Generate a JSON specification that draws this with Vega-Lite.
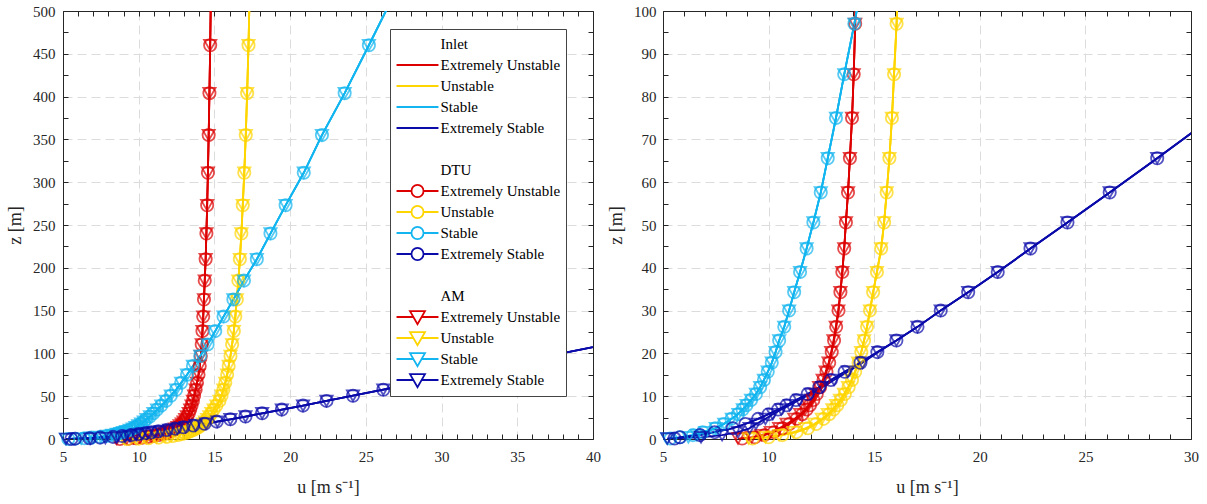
{
  "$schema": "https://vega.github.io/schema/vega-lite/v6.json",
  "padding": {"left": 6, "top": 4, "right": 10, "bottom": 5},
  "bounds": "flush",
  "spacing": 70,
  "datasets": {
    "profiles": [
      {"case": "EU", "z": 0.1, "Inlet": 8.7, "DTU": 8.75, "AM": 8.55},
      {"case": "EU", "z": 0.4, "Inlet": 9.3, "DTU": 9.35, "AM": 9.2},
      {"case": "EU", "z": 0.9, "Inlet": 9.75, "DTU": 9.8, "AM": 9.65},
      {"case": "EU", "z": 1.6, "Inlet": 10.2, "DTU": 10.25, "AM": 10.1},
      {"case": "EU", "z": 2.5, "Inlet": 10.6, "DTU": 10.65, "AM": 10.5},
      {"case": "EU", "z": 3.5, "Inlet": 10.93, "DTU": 10.98, "AM": 10.85},
      {"case": "EU", "z": 4.7, "Inlet": 11.3, "DTU": 11.33, "AM": 11.22},
      {"case": "EU", "z": 5.8, "Inlet": 11.58, "DTU": 11.6, "AM": 11.5},
      {"case": "EU", "z": 6.9, "Inlet": 11.78, "DTU": 11.8, "AM": 11.72},
      {"case": "EU", "z": 7.9, "Inlet": 11.94, "DTU": 11.96, "AM": 11.88},
      {"case": "EU", "z": 9.1, "Inlet": 12.1, "DTU": 12.12, "AM": 12.05},
      {"case": "EU", "z": 10.5, "Inlet": 12.27, "DTU": 12.28, "AM": 12.22},
      {"case": "EU", "z": 12.1, "Inlet": 12.43, "DTU": 12.44, "AM": 12.39},
      {"case": "EU", "z": 13.8, "Inlet": 12.59, "DTU": 12.6, "AM": 12.56},
      {"case": "EU", "z": 15.7, "Inlet": 12.73, "DTU": 12.74, "AM": 12.7},
      {"case": "EU", "z": 17.8, "Inlet": 12.86, "DTU": 12.87, "AM": 12.84},
      {"case": "EU", "z": 20.3, "Inlet": 12.98, "DTU": 12.99, "AM": 12.96},
      {"case": "EU", "z": 23.0, "Inlet": 13.09, "DTU": 13.1, "AM": 13.07},
      {"case": "EU", "z": 26.2, "Inlet": 13.2, "DTU": 13.2, "AM": 13.18},
      {"case": "EU", "z": 30.0, "Inlet": 13.31, "DTU": 13.31, "AM": 13.3},
      {"case": "EU", "z": 34.3, "Inlet": 13.4, "DTU": 13.4, "AM": 13.4},
      {"case": "EU", "z": 39.0, "Inlet": 13.49, "DTU": 13.49, "AM": 13.49},
      {"case": "EU", "z": 44.5, "Inlet": 13.58, "DTU": 13.58, "AM": 13.58},
      {"case": "EU", "z": 50.6, "Inlet": 13.66, "DTU": 13.66, "AM": 13.66},
      {"case": "EU", "z": 57.6, "Inlet": 13.76, "DTU": 13.76, "AM": 13.76},
      {"case": "EU", "z": 65.6, "Inlet": 13.85, "DTU": 13.85, "AM": 13.85},
      {"case": "EU", "z": 75.0, "Inlet": 13.95, "DTU": 13.95, "AM": 13.95},
      {"case": "EU", "z": 85.2, "Inlet": 14.03, "DTU": 14.03, "AM": 14.03},
      {"case": "EU", "z": 97.0, "Inlet": 14.1, "DTU": 14.1, "AM": 14.1},
      {"case": "EU", "z": 110.5, "Inlet": 14.16, "DTU": 14.16, "AM": 14.16},
      {"case": "EU", "z": 126, "Inlet": 14.21, "DTU": 14.21, "AM": 14.21},
      {"case": "EU", "z": 143, "Inlet": 14.26, "DTU": 14.26, "AM": 14.26},
      {"case": "EU", "z": 163, "Inlet": 14.31, "DTU": 14.31, "AM": 14.31},
      {"case": "EU", "z": 185, "Inlet": 14.36, "DTU": 14.36, "AM": 14.36},
      {"case": "EU", "z": 210, "Inlet": 14.42, "DTU": 14.42, "AM": 14.42},
      {"case": "EU", "z": 240, "Inlet": 14.47, "DTU": 14.47, "AM": 14.47},
      {"case": "EU", "z": 273, "Inlet": 14.52, "DTU": 14.52, "AM": 14.52},
      {"case": "EU", "z": 311, "Inlet": 14.57, "DTU": 14.57, "AM": 14.57},
      {"case": "EU", "z": 355, "Inlet": 14.62, "DTU": 14.62, "AM": 14.62},
      {"case": "EU", "z": 404, "Inlet": 14.67, "DTU": 14.67, "AM": 14.67},
      {"case": "EU", "z": 460, "Inlet": 14.72, "DTU": 14.72, "AM": 14.72},
      {"case": "EU", "z": 524, "Inlet": 14.77, "DTU": 14.77, "AM": 14.77},

      {"case": "U", "z": 0.1, "Inlet": 9.2, "DTU": 9.25, "AM": 9.05},
      {"case": "U", "z": 0.4, "Inlet": 9.95, "DTU": 10.0, "AM": 9.85},
      {"case": "U", "z": 0.9, "Inlet": 10.6, "DTU": 10.65, "AM": 10.5},
      {"case": "U", "z": 1.6, "Inlet": 11.28, "DTU": 11.32, "AM": 11.18},
      {"case": "U", "z": 2.5, "Inlet": 11.82, "DTU": 11.86, "AM": 11.74},
      {"case": "U", "z": 3.5, "Inlet": 12.22, "DTU": 12.25, "AM": 12.15},
      {"case": "U", "z": 4.7, "Inlet": 12.58, "DTU": 12.6, "AM": 12.52},
      {"case": "U", "z": 5.8, "Inlet": 12.85, "DTU": 12.87, "AM": 12.8},
      {"case": "U", "z": 6.9, "Inlet": 13.06, "DTU": 13.08, "AM": 13.02},
      {"case": "U", "z": 7.9, "Inlet": 13.23, "DTU": 13.25, "AM": 13.2},
      {"case": "U", "z": 9.1, "Inlet": 13.41, "DTU": 13.42, "AM": 13.38},
      {"case": "U", "z": 10.5, "Inlet": 13.6, "DTU": 13.61, "AM": 13.57},
      {"case": "U", "z": 12.1, "Inlet": 13.78, "DTU": 13.79, "AM": 13.76},
      {"case": "U", "z": 13.8, "Inlet": 13.94, "DTU": 13.95, "AM": 13.92},
      {"case": "U", "z": 15.7, "Inlet": 14.1, "DTU": 14.1, "AM": 14.08},
      {"case": "U", "z": 17.8, "Inlet": 14.26, "DTU": 14.26, "AM": 14.24},
      {"case": "U", "z": 20.3, "Inlet": 14.39, "DTU": 14.39, "AM": 14.38},
      {"case": "U", "z": 23.0, "Inlet": 14.52, "DTU": 14.52, "AM": 14.52},
      {"case": "U", "z": 26.2, "Inlet": 14.66, "DTU": 14.66, "AM": 14.66},
      {"case": "U", "z": 30.0, "Inlet": 14.8, "DTU": 14.8, "AM": 14.8},
      {"case": "U", "z": 34.3, "Inlet": 14.95, "DTU": 14.95, "AM": 14.95},
      {"case": "U", "z": 39.0, "Inlet": 15.13, "DTU": 15.13, "AM": 15.13},
      {"case": "U", "z": 44.5, "Inlet": 15.33, "DTU": 15.33, "AM": 15.33},
      {"case": "U", "z": 50.6, "Inlet": 15.47, "DTU": 15.47, "AM": 15.47},
      {"case": "U", "z": 57.6, "Inlet": 15.59, "DTU": 15.59, "AM": 15.59},
      {"case": "U", "z": 65.6, "Inlet": 15.72, "DTU": 15.72, "AM": 15.72},
      {"case": "U", "z": 75.0, "Inlet": 15.84, "DTU": 15.84, "AM": 15.84},
      {"case": "U", "z": 85.2, "Inlet": 15.94, "DTU": 15.94, "AM": 15.94},
      {"case": "U", "z": 97.0, "Inlet": 16.06, "DTU": 16.06, "AM": 16.06},
      {"case": "U", "z": 110.5, "Inlet": 16.17, "DTU": 16.17, "AM": 16.17},
      {"case": "U", "z": 126, "Inlet": 16.28, "DTU": 16.28, "AM": 16.28},
      {"case": "U", "z": 143, "Inlet": 16.38, "DTU": 16.38, "AM": 16.38},
      {"case": "U", "z": 163, "Inlet": 16.48, "DTU": 16.48, "AM": 16.48},
      {"case": "U", "z": 185, "Inlet": 16.58, "DTU": 16.58, "AM": 16.58},
      {"case": "U", "z": 210, "Inlet": 16.68, "DTU": 16.68, "AM": 16.68},
      {"case": "U", "z": 240, "Inlet": 16.78, "DTU": 16.78, "AM": 16.78},
      {"case": "U", "z": 273, "Inlet": 16.87, "DTU": 16.87, "AM": 16.87},
      {"case": "U", "z": 311, "Inlet": 16.97, "DTU": 16.97, "AM": 16.97},
      {"case": "U", "z": 355, "Inlet": 17.07, "DTU": 17.07, "AM": 17.07},
      {"case": "U", "z": 404, "Inlet": 17.16, "DTU": 17.16, "AM": 17.16},
      {"case": "U", "z": 460, "Inlet": 17.25, "DTU": 17.25, "AM": 17.25},
      {"case": "U", "z": 524, "Inlet": 17.33, "DTU": 17.33, "AM": 17.33},

      {"case": "S", "z": 0.1, "Inlet": 5.3, "DTU": 5.35, "AM": 5.2},
      {"case": "S", "z": 0.4, "Inlet": 5.75, "DTU": 5.8, "AM": 6.2},
      {"case": "S", "z": 0.9, "Inlet": 6.38, "DTU": 6.42, "AM": 6.6},
      {"case": "S", "z": 1.6, "Inlet": 6.84, "DTU": 6.88, "AM": 7.0},
      {"case": "S", "z": 2.5, "Inlet": 7.45, "DTU": 7.48, "AM": 7.5},
      {"case": "S", "z": 3.5, "Inlet": 7.85, "DTU": 7.88, "AM": 7.9},
      {"case": "S", "z": 4.7, "Inlet": 8.22, "DTU": 8.24, "AM": 8.26},
      {"case": "S", "z": 5.8, "Inlet": 8.55, "DTU": 8.55, "AM": 8.57},
      {"case": "S", "z": 6.9, "Inlet": 8.77, "DTU": 8.77, "AM": 8.78},
      {"case": "S", "z": 7.9, "Inlet": 8.95, "DTU": 8.95, "AM": 8.96},
      {"case": "S", "z": 9.1, "Inlet": 9.17, "DTU": 9.17, "AM": 9.17},
      {"case": "S", "z": 10.5, "Inlet": 9.4, "DTU": 9.4, "AM": 9.4},
      {"case": "S", "z": 12.1, "Inlet": 9.6, "DTU": 9.6, "AM": 9.6},
      {"case": "S", "z": 13.8, "Inlet": 9.78, "DTU": 9.78, "AM": 9.78},
      {"case": "S", "z": 15.7, "Inlet": 9.96, "DTU": 9.96, "AM": 9.96},
      {"case": "S", "z": 17.8, "Inlet": 10.15, "DTU": 10.15, "AM": 10.15},
      {"case": "S", "z": 20.3, "Inlet": 10.33, "DTU": 10.33, "AM": 10.33},
      {"case": "S", "z": 23.0, "Inlet": 10.5, "DTU": 10.5, "AM": 10.5},
      {"case": "S", "z": 26.2, "Inlet": 10.74, "DTU": 10.74, "AM": 10.74},
      {"case": "S", "z": 30.0, "Inlet": 10.97, "DTU": 10.97, "AM": 10.97},
      {"case": "S", "z": 34.3, "Inlet": 11.21, "DTU": 11.21, "AM": 11.21},
      {"case": "S", "z": 39.0, "Inlet": 11.49, "DTU": 11.49, "AM": 11.49},
      {"case": "S", "z": 44.5, "Inlet": 11.8, "DTU": 11.8, "AM": 11.8},
      {"case": "S", "z": 50.6, "Inlet": 12.12, "DTU": 12.12, "AM": 12.12},
      {"case": "S", "z": 57.6, "Inlet": 12.47, "DTU": 12.47, "AM": 12.47},
      {"case": "S", "z": 65.6, "Inlet": 12.8, "DTU": 12.8, "AM": 12.8},
      {"case": "S", "z": 75.0, "Inlet": 13.19, "DTU": 13.19, "AM": 13.19},
      {"case": "S", "z": 85.2, "Inlet": 13.58, "DTU": 13.58, "AM": 13.58},
      {"case": "S", "z": 97.0, "Inlet": 14.06, "DTU": 14.06, "AM": 14.06},
      {"case": "S", "z": 110.5, "Inlet": 14.55, "DTU": 14.55, "AM": 14.55},
      {"case": "S", "z": 126, "Inlet": 15.05, "DTU": 15.05, "AM": 15.05},
      {"case": "S", "z": 143, "Inlet": 15.6, "DTU": 15.6, "AM": 15.6},
      {"case": "S", "z": 163, "Inlet": 16.25, "DTU": 16.25, "AM": 16.25},
      {"case": "S", "z": 185, "Inlet": 16.95, "DTU": 16.95, "AM": 16.95},
      {"case": "S", "z": 210, "Inlet": 17.8, "DTU": 17.8, "AM": 17.8},
      {"case": "S", "z": 240, "Inlet": 18.7, "DTU": 18.7, "AM": 18.7},
      {"case": "S", "z": 273, "Inlet": 19.7, "DTU": 19.7, "AM": 19.7},
      {"case": "S", "z": 311, "Inlet": 20.9, "DTU": 20.9, "AM": 20.9},
      {"case": "S", "z": 355, "Inlet": 22.1, "DTU": 22.1, "AM": 22.1},
      {"case": "S", "z": 404, "Inlet": 23.6, "DTU": 23.6, "AM": 23.6},
      {"case": "S", "z": 460, "Inlet": 25.2, "DTU": 25.2, "AM": 25.2},
      {"case": "S", "z": 524, "Inlet": 27.0, "DTU": 27.0, "AM": 27.0},

      {"case": "ES", "z": 0.1, "Inlet": 5.5, "DTU": 5.55, "AM": 5.2},
      {"case": "ES", "z": 0.4, "Inlet": 5.85, "DTU": 5.8, "AM": 6.8},
      {"case": "ES", "z": 0.9, "Inlet": 6.7, "DTU": 6.75, "AM": 7.8},
      {"case": "ES", "z": 1.6, "Inlet": 7.4, "DTU": 7.45, "AM": 8.55},
      {"case": "ES", "z": 2.5, "Inlet": 8.25, "DTU": 8.3, "AM": 9.1},
      {"case": "ES", "z": 3.5, "Inlet": 8.9, "DTU": 8.9, "AM": 9.4},
      {"case": "ES", "z": 4.7, "Inlet": 9.5, "DTU": 9.5, "AM": 9.85},
      {"case": "ES", "z": 5.8, "Inlet": 10.0, "DTU": 10.0, "AM": 10.2},
      {"case": "ES", "z": 6.9, "Inlet": 10.45, "DTU": 10.45, "AM": 10.6},
      {"case": "ES", "z": 7.9, "Inlet": 10.85, "DTU": 10.85, "AM": 11.0},
      {"case": "ES", "z": 9.1, "Inlet": 11.3, "DTU": 11.3, "AM": 11.45},
      {"case": "ES", "z": 10.5, "Inlet": 11.85, "DTU": 11.85, "AM": 12.0},
      {"case": "ES", "z": 12.1, "Inlet": 12.4, "DTU": 12.4, "AM": 12.55},
      {"case": "ES", "z": 13.8, "Inlet": 12.95, "DTU": 12.95, "AM": 13.1},
      {"case": "ES", "z": 15.7, "Inlet": 13.6, "DTU": 13.6, "AM": 13.75},
      {"case": "ES", "z": 17.8, "Inlet": 14.35, "DTU": 14.35, "AM": 14.45},
      {"case": "ES", "z": 20.3, "Inlet": 15.15, "DTU": 15.15, "AM": 15.2},
      {"case": "ES", "z": 23.0, "Inlet": 16.05, "DTU": 16.05, "AM": 16.05},
      {"case": "ES", "z": 26.2, "Inlet": 17.05, "DTU": 17.05, "AM": 17.05},
      {"case": "ES", "z": 30.0, "Inlet": 18.15, "DTU": 18.15, "AM": 18.15},
      {"case": "ES", "z": 34.3, "Inlet": 19.45, "DTU": 19.45, "AM": 19.45},
      {"case": "ES", "z": 39.0, "Inlet": 20.85, "DTU": 20.85, "AM": 20.85},
      {"case": "ES", "z": 44.5, "Inlet": 22.4, "DTU": 22.4, "AM": 22.4},
      {"case": "ES", "z": 50.6, "Inlet": 24.15, "DTU": 24.15, "AM": 24.15},
      {"case": "ES", "z": 57.6, "Inlet": 26.15, "DTU": 26.15, "AM": 26.15},
      {"case": "ES", "z": 65.6, "Inlet": 28.4, "DTU": 28.4, "AM": 28.4},
      {"case": "ES", "z": 75.0, "Inlet": 31.0, "DTU": 31.0, "AM": 31.0},
      {"case": "ES", "z": 85.2, "Inlet": 33.8, "DTU": 33.8, "AM": 33.8},
      {"case": "ES", "z": 97.0, "Inlet": 37.1, "DTU": 37.1, "AM": 37.1},
      {"case": "ES", "z": 110.5, "Inlet": 40.9, "DTU": 40.9, "AM": 40.9},
      {"case": "ES", "z": 126, "Inlet": 45.0, "DTU": 45.0, "AM": 45.0}
    ],
    "legendKeys": [
      {"key": "Inlet"},
      {"key": "Inlet:Extremely Unstable"},
      {"key": "Inlet:Unstable"},
      {"key": "Inlet:Stable"},
      {"key": "Inlet:Extremely Stable"},
      {"key": " "},
      {"key": "DTU"},
      {"key": "DTU:Extremely Unstable"},
      {"key": "DTU:Unstable"},
      {"key": "DTU:Stable"},
      {"key": "DTU:Extremely Stable"},
      {"key": "  "},
      {"key": "AM"},
      {"key": "AM:Extremely Unstable"},
      {"key": "AM:Unstable"},
      {"key": "AM:Stable"},
      {"key": "AM:Extremely Stable"}
    ]
  },
  "hconcat": [
    {
      "width": 530,
      "height": 428,
      "data": {"name": "profiles"},
      "layer": [
        {
          "transform": [{"fold": ["Inlet", "DTU", "AM"], "as": ["model", "u"]}],
          "mark": {"type": "line", "strokeWidth": 1.8, "clip": true},
          "encoding": {
            "x": {
              "field": "u", "type": "quantitative",
              "scale": {"domain": [5, 40], "nice": false, "zero": false},
              "axis": {
                "orient": "bottom", "title": "u [m s⁻¹]",
                "values": [5,6,7,8,9,10,11,12,13,14,15,16,17,18,19,20,21,22,23,24,25,26,27,28,29,30,31,32,33,34,35,36,37,38,39,40],
                "labelExpr": "datum.value % 5 === 0 ? datum.label : ''",
                "grid": true,
                "gridOpacity": {"condition": {"test": "datum.value % 5 === 0 && datum.value > 5 && datum.value < 40", "value": 1}, "value": 0},
                "labelPadding": 15, "titlePadding": 14
              }
            },
            "y": {
              "field": "z", "type": "quantitative",
              "scale": {"domain": [0, 500], "nice": false},
              "axis": {
                "orient": "left", "title": "z [m]",
                "values": [0,25,50,75,100,125,150,175,200,225,250,275,300,325,350,375,400,425,450,475,500],
                "labelExpr": "datum.value % 50 === 0 ? datum.label : ''",
                "grid": true,
                "gridOpacity": {"condition": {"test": "datum.value % 50 === 0 && datum.value > 0 && datum.value < 500", "value": 1}, "value": 0},
                "labelPadding": 13, "titlePadding": 8
              }
            },
            "color": {
              "field": "case", "type": "nominal",
              "scale": {"domain": ["EU", "U", "S", "ES"], "range": ["#dd0000", "#ffd500", "#12b5ef", "#0b0baa"]},
              "legend": null
            },
            "detail": {"field": "model"},
            "order": {"field": "z", "type": "quantitative"}
          }
        },
        {
          "transform": [
            {"fold": ["Inlet", "DTU", "AM"], "as": ["model", "u"]},
            {"filter": "datum.model !== 'Inlet' && datum.u <= 40 && datum.z <= 500"}
          ],
          "mark": {"type": "point", "filled": false, "size": 150, "strokeWidth": 1.8},
          "encoding": {
            "x": {
              "field": "u", "type": "quantitative",
              "scale": {"domain": [5, 40], "nice": false, "zero": false},
              "axis": {
                "orient": "top", "title": null, "labels": false, "grid": false,
                "values": [5,6,7,8,9,10,11,12,13,14,15,16,17,18,19,20,21,22,23,24,25,26,27,28,29,30,31,32,33,34,35,36,37,38,39,40]
              }
            },
            "y": {
              "field": "z", "type": "quantitative",
              "scale": {"domain": [0, 500], "nice": false},
              "axis": {
                "orient": "right", "title": null, "labels": false, "grid": false,
                "values": [0,25,50,75,100,125,150,175,200,225,250,275,300,325,350,375,400,425,450,475,500]
              }
            },
            "color": {
              "field": "case", "type": "nominal",
              "scale": {"domain": ["EU", "U", "S", "ES"], "range": ["#dd0000", "#ffd500", "#12b5ef", "#0b0baa"]},
              "legend": null
            },
            "shape": {
              "field": "model", "type": "nominal",
              "scale": {"domain": ["DTU", "AM"], "range": ["circle", "triangle-down"]},
              "legend": null
            }
          }
        },
        {
          "data": {"name": "legendKeys"},
          "mark": {"type": "point", "filled": false, "opacity": 0},
          "encoding": {
            "color": {
              "field": "key", "type": "nominal",
              "scale": {
                "domain": ["Inlet", "Inlet:Extremely Unstable", "Inlet:Unstable", "Inlet:Stable", "Inlet:Extremely Stable", " ", "DTU", "DTU:Extremely Unstable", "DTU:Unstable", "DTU:Stable", "DTU:Extremely Stable", "  ", "AM", "AM:Extremely Unstable", "AM:Unstable", "AM:Stable", "AM:Extremely Stable"],
                "range": ["transparent", "#dd0000", "#ffd500", "#12b5ef", "#0b0baa", "transparent", "transparent", "#dd0000", "#ffd500", "#12b5ef", "#0b0baa", "transparent", "transparent", "#dd0000", "#ffd500", "#12b5ef", "#0b0baa"]
              },
              "legend": {
                "title": null, "orient": "none", "legendX": 327, "legendY": 18, "padding": 5,
                "strokeColor": "#444444", "fillColor": "white",
                "symbolSize": 324, "symbolStrokeWidth": 1.8, "symbolOpacity": 1,
                "symbolOffset": 12.5, "labelOffset": 13, "rowPadding": -2, "gridAlign": "all",
                "labelFont": "Liberation Serif", "labelFontSize": 15, "labelColor": "#000000", "labelLimit": 300,
                "labelExpr": "indexof(datum.label, ':') > 0 ? substring(datum.label, indexof(datum.label, ':') + 1) : datum.label"
              }
            },
            "shape": {
              "field": "key", "type": "nominal",
              "scale": {
                "domain": ["Inlet", "Inlet:Extremely Unstable", "Inlet:Unstable", "Inlet:Stable", "Inlet:Extremely Stable", " ", "DTU", "DTU:Extremely Unstable", "DTU:Unstable", "DTU:Stable", "DTU:Extremely Stable", "  ", "AM", "AM:Extremely Unstable", "AM:Unstable", "AM:Stable", "AM:Extremely Stable"],
                "range": [
                  "M-2.33,0H2.33",
                  "M-2.33,0H2.33", "M-2.33,0H2.33", "M-2.33,0H2.33", "M-2.33,0H2.33",
                  "M-2.33,0H2.33", "M-2.33,0H2.33",
                  "M-2.33,0H-0.67M0.67,0H2.33M0.67,0A0.67,0.67,0,1,1,-0.67,0A0.67,0.67,0,1,1,0.67,0",
                  "M-2.33,0H-0.67M0.67,0H2.33M0.67,0A0.67,0.67,0,1,1,-0.67,0A0.67,0.67,0,1,1,0.67,0",
                  "M-2.33,0H-0.67M0.67,0H2.33M0.67,0A0.67,0.67,0,1,1,-0.67,0A0.67,0.67,0,1,1,0.67,0",
                  "M-2.33,0H-0.67M0.67,0H2.33M0.67,0A0.67,0.67,0,1,1,-0.67,0A0.67,0.67,0,1,1,0.67,0",
                  "M-2.33,0H2.33", "M-2.33,0H2.33",
                  "M-2.33,0H-0.46M0.46,0H2.33M-0.83,-0.65L0.83,-0.65L0,0.8Z",
                  "M-2.33,0H-0.46M0.46,0H2.33M-0.83,-0.65L0.83,-0.65L0,0.8Z",
                  "M-2.33,0H-0.46M0.46,0H2.33M-0.83,-0.65L0.83,-0.65L0,0.8Z",
                  "M-2.33,0H-0.46M0.46,0H2.33M-0.83,-0.65L0.83,-0.65L0,0.8Z"
                ]
              },
              "legend": {
                "title": null, "orient": "none", "legendX": 327, "legendY": 18, "padding": 5,
                "strokeColor": "#444444", "fillColor": "white",
                "symbolSize": 324, "symbolStrokeWidth": 1.8, "symbolOpacity": 1,
                "symbolOffset": 12.5, "labelOffset": 13, "rowPadding": -2, "gridAlign": "all",
                "labelFont": "Liberation Serif", "labelFontSize": 15, "labelColor": "#000000", "labelLimit": 300,
                "labelExpr": "indexof(datum.label, ':') > 0 ? substring(datum.label, indexof(datum.label, ':') + 1) : datum.label"
              }
            }
          }
        }
      ],
      "resolve": {
        "axis": {"x": "independent", "y": "independent"},
        "scale": {"color": "independent", "shape": "independent"}
      }
    },
    {
      "width": 528,
      "height": 428,
      "data": {"name": "profiles"},
      "layer": [
        {
          "transform": [{"fold": ["Inlet", "DTU", "AM"], "as": ["model", "u"]}],
          "mark": {"type": "line", "strokeWidth": 1.8, "clip": true},
          "encoding": {
            "x": {
              "field": "u", "type": "quantitative",
              "scale": {"domain": [5, 30], "nice": false, "zero": false},
              "axis": {
                "orient": "bottom", "title": "u [m s⁻¹]",
                "values": [5,6,7,8,9,10,11,12,13,14,15,16,17,18,19,20,21,22,23,24,25,26,27,28,29,30],
                "labelExpr": "datum.value % 5 === 0 ? datum.label : ''",
                "grid": true,
                "gridOpacity": {"condition": {"test": "datum.value % 5 === 0 && datum.value > 5 && datum.value < 30", "value": 1}, "value": 0},
                "labelPadding": 15, "titlePadding": 14
              }
            },
            "y": {
              "field": "z", "type": "quantitative",
              "scale": {"domain": [0, 100], "nice": false},
              "axis": {
                "orient": "left", "title": "z [m]",
                "values": [0,5,10,15,20,25,30,35,40,45,50,55,60,65,70,75,80,85,90,95,100],
                "labelExpr": "datum.value % 10 === 0 ? datum.label : ''",
                "grid": true,
                "gridOpacity": {"condition": {"test": "datum.value % 10 === 0 && datum.value > 0 && datum.value < 100", "value": 1}, "value": 0},
                "labelPadding": 12, "titlePadding": 8
              }
            },
            "color": {
              "field": "case", "type": "nominal",
              "scale": {"domain": ["EU", "U", "S", "ES"], "range": ["#dd0000", "#ffd500", "#12b5ef", "#0b0baa"]},
              "legend": null
            },
            "detail": {"field": "model"},
            "order": {"field": "z", "type": "quantitative"}
          }
        },
        {
          "transform": [
            {"fold": ["Inlet", "DTU", "AM"], "as": ["model", "u"]},
            {"filter": "datum.model !== 'Inlet' && datum.u <= 30 && datum.z <= 100"}
          ],
          "mark": {"type": "point", "filled": false, "size": 150, "strokeWidth": 1.8},
          "encoding": {
            "x": {
              "field": "u", "type": "quantitative",
              "scale": {"domain": [5, 30], "nice": false, "zero": false},
              "axis": {
                "orient": "top", "title": null, "labels": false, "grid": false,
                "values": [5,6,7,8,9,10,11,12,13,14,15,16,17,18,19,20,21,22,23,24,25,26,27,28,29,30]
              }
            },
            "y": {
              "field": "z", "type": "quantitative",
              "scale": {"domain": [0, 100], "nice": false},
              "axis": {
                "orient": "right", "title": null, "labels": false, "grid": false,
                "values": [0,5,10,15,20,25,30,35,40,45,50,55,60,65,70,75,80,85,90,95,100]
              }
            },
            "color": {
              "field": "case", "type": "nominal",
              "scale": {"domain": ["EU", "U", "S", "ES"], "range": ["#dd0000", "#ffd500", "#12b5ef", "#0b0baa"]},
              "legend": null
            },
            "shape": {
              "field": "model", "type": "nominal",
              "scale": {"domain": ["DTU", "AM"], "range": ["circle", "triangle-down"]},
              "legend": null
            }
          }
        }
      ],
      "resolve": {
        "axis": {"x": "independent", "y": "independent"},
        "scale": {"color": "independent", "shape": "independent"}
      }
    }
  ],
  "config": {
    "font": "Liberation Serif",
    "view": {"stroke": null},
    "axis": {
      "labelFont": "Liberation Serif", "labelFontSize": 15, "labelColor": "#262626",
      "titleFont": "Liberation Serif", "titleFontSize": 18, "titleFontWeight": "normal", "titleColor": "#262626",
      "domainColor": "#262626", "domainWidth": 1,
      "tickColor": "#262626", "tickWidth": 1, "tickSize": -5,
      "labelFlush": false, "labelOverlap": false,
      "gridColor": "#dcdcdc", "gridDash": [9, 5], "gridWidth": 1
    }
  }
}
